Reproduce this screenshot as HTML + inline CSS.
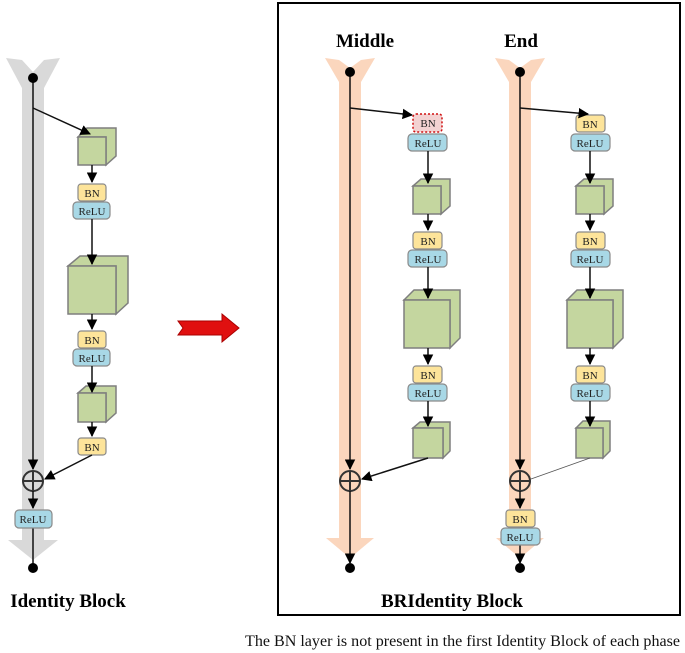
<!DOCTYPE html>
<html><head><meta charset="utf-8"><style>
body{margin:0;background:#fff}
svg{display:block}
.c{fill:#c4d69f;stroke:#7f7f7f;stroke-width:1.5}
.bn{fill:#fde49a;stroke:#8a8a8a;stroke-width:1.2}
.re{fill:#a8d8e6;stroke:#8a8a8a;stroke-width:1.2}
.t{font-family:"Liberation Serif",serif;font-size:11px;fill:#222;text-anchor:middle}
.ln{stroke:#111;stroke-width:1.5;fill:none}
.h{font-family:"Liberation Serif",serif;font-weight:bold;font-size:19px;text-anchor:middle;fill:#000}
</style></head><body>
<svg width="685" height="653" viewBox="0 0 685 653" xmlns="http://www.w3.org/2000/svg">
<defs>
<marker id="a" viewBox="0 0 10 10" refX="9" refY="5" markerWidth="7" markerHeight="7" orient="auto"><path d="M0,0L10,5L0,10z" fill="#000"/></marker>
</defs>
<path d="M22,60 L33,72 L44,60 L60,58 L44,88 L44,540 L58,540 L33,560 L8,540 L22,540 L22,88 L6,58 Z" fill="#d9d9d9"/>
<path d="M339,60 L350,68 L361,60 L375,58 L361,82 L361,538 L374,538 L350,558 L326,538 L339,538 L339,82 L325,58 Z" fill="#fbd6bd"/>
<path d="M509,60 L520,68 L531,60 L545,58 L531,82 L531,538 L544,538 L520,558 L496,538 L509,538 L509,82 L495,58 Z" fill="#fbd6bd"/>

<!-- LEFT shapes -->
<g><path class="c" d="M78,137 L87,128 L116,128 L116,156 L106,165 L106,137 Z"/><rect class="c" x="78" y="137" width="28" height="28"/></g>
<rect class="bn" x="78" y="184" width="28" height="17" rx="3"/><text class="t" x="92" y="197">BN</text>
<rect class="re" x="73" y="202" width="37" height="17" rx="4"/><text class="t" x="92" y="215">ReLU</text>
<g><path class="c" d="M68,266 L80,256 L128,256 L128,303 L116,314 L116,266 Z"/><rect class="c" x="68" y="266" width="48" height="48"/></g>
<rect class="bn" x="78" y="331" width="28" height="17" rx="3"/><text class="t" x="92" y="344">BN</text>
<rect class="re" x="73" y="349" width="37" height="17" rx="4"/><text class="t" x="92" y="362">ReLU</text>
<g><path class="c" d="M78,393 L86,386 L116,386 L116,413 L106,422 L106,393 Z"/><rect class="c" x="78" y="393" width="28" height="29"/></g>
<rect class="bn" x="78" y="438" width="28" height="17" rx="3"/><text class="t" x="92" y="451">BN</text>
<!-- LEFT lines -->
<line class="ln" x1="33" y1="78" x2="33" y2="469" marker-end="url(#a)"/>
<line class="ln" x1="33" y1="108" x2="90" y2="134" marker-end="url(#a)"/>
<line class="ln" x1="92" y1="165" x2="92" y2="182" marker-end="url(#a)"/>
<line class="ln" x1="92" y1="219" x2="92" y2="264" marker-end="url(#a)"/>
<line class="ln" x1="92" y1="314" x2="92" y2="329" marker-end="url(#a)"/>
<line class="ln" x1="92" y1="366" x2="92" y2="392" marker-end="url(#a)"/>
<line class="ln" x1="92" y1="422" x2="92" y2="436" marker-end="url(#a)"/>
<line class="ln" x1="92" y1="455" x2="45" y2="479" marker-end="url(#a)"/>
<circle cx="33" cy="481" r="10" fill="none" stroke="#333" stroke-width="2"/>
<line x1="23" y1="481" x2="43" y2="481" stroke="#333" stroke-width="2"/><line x1="33" y1="471" x2="33" y2="491" stroke="#333" stroke-width="2"/>
<line class="ln" x1="33" y1="491" x2="33" y2="508" marker-end="url(#a)"/>
<line class="ln" x1="33" y1="528" x2="33" y2="566"/>
<rect class="re" x="15" y="510" width="37" height="18" rx="4"/><text class="t" x="33" y="523">ReLU</text>
<circle cx="33" cy="78" r="5"/><circle cx="33" cy="568" r="5"/>

<path d="M178,321 L222,321 L222,314 L239,328 L222,342 L222,335 L178,335 L183,328 Z" fill="#e01010" stroke="#a00" stroke-width="1"/>

<rect x="278" y="3" width="402" height="612" fill="none" stroke="#000" stroke-width="2"/>
<text class="h" x="365" y="47">Middle</text>
<text class="h" x="521" y="47">End</text>

<!-- MIDDLE shapes -->
<rect x="413" y="114" width="29" height="18" rx="3" fill="#f3d2d2" stroke="#d01010" stroke-width="1.5" stroke-dasharray="2,2"/><text class="t" x="428" y="127">BN</text>
<rect class="re" x="408" y="134" width="39" height="17" rx="4"/><text class="t" x="428" y="147">ReLU</text>
<g><path class="c" d="M413,186 L421,179 L450,179 L450,206 L441,214 L441,186 Z"/><rect class="c" x="413" y="186" width="28" height="28"/></g>
<rect class="bn" x="413" y="232" width="29" height="17" rx="3"/><text class="t" x="428" y="245">BN</text>
<rect class="re" x="408" y="250" width="39" height="17" rx="4"/><text class="t" x="428" y="263">ReLU</text>
<g><path class="c" d="M404,300 L414,290 L460,290 L460,338 L450,348 L450,300 Z"/><rect class="c" x="404" y="300" width="46" height="48"/></g>
<rect class="bn" x="413" y="366" width="29" height="17" rx="3"/><text class="t" x="428" y="379">BN</text>
<rect class="re" x="408" y="384" width="39" height="17" rx="4"/><text class="t" x="428" y="397">ReLU</text>
<g><path class="c" d="M413,428 L420,422 L450,422 L450,451 L443,458 L443,428 Z"/><rect class="c" x="413" y="428" width="30" height="30"/></g>
<!-- MIDDLE lines -->
<line class="ln" x1="350" y1="72" x2="350" y2="469" marker-end="url(#a)"/>
<line class="ln" x1="350" y1="108" x2="412" y2="115" marker-end="url(#a)"/>
<line class="ln" x1="428" y1="151" x2="428" y2="183" marker-end="url(#a)"/>
<line class="ln" x1="428" y1="214" x2="428" y2="230" marker-end="url(#a)"/>
<line class="ln" x1="428" y1="267" x2="428" y2="298" marker-end="url(#a)"/>
<line class="ln" x1="428" y1="348" x2="428" y2="364" marker-end="url(#a)"/>
<line class="ln" x1="428" y1="401" x2="428" y2="426" marker-end="url(#a)"/>
<line class="ln" x1="428" y1="458" x2="362" y2="479" marker-end="url(#a)"/>
<circle cx="350" cy="481" r="10" fill="none" stroke="#333" stroke-width="2"/>
<line x1="340" y1="481" x2="360" y2="481" stroke="#333" stroke-width="2"/><line x1="350" y1="471" x2="350" y2="491" stroke="#333" stroke-width="2"/>
<line class="ln" x1="350" y1="491" x2="350" y2="563" marker-end="url(#a)"/>
<circle cx="350" cy="72" r="5"/><circle cx="350" cy="568" r="5"/>

<!-- END shapes -->
<rect class="bn" x="576" y="115" width="29" height="17" rx="3"/><text class="t" x="590" y="128">BN</text>
<rect class="re" x="571" y="134" width="39" height="17" rx="4"/><text class="t" x="590" y="147">ReLU</text>
<g><path class="c" d="M576,186 L584,179 L613,179 L613,206 L604,214 L604,186 Z"/><rect class="c" x="576" y="186" width="28" height="28"/></g>
<rect class="bn" x="576" y="232" width="29" height="17" rx="3"/><text class="t" x="590" y="245">BN</text>
<rect class="re" x="571" y="250" width="39" height="17" rx="4"/><text class="t" x="590" y="263">ReLU</text>
<g><path class="c" d="M567,300 L577,290 L623,290 L623,338 L613,348 L613,300 Z"/><rect class="c" x="567" y="300" width="46" height="48"/></g>
<rect class="bn" x="576" y="366" width="29" height="17" rx="3"/><text class="t" x="590" y="379">BN</text>
<rect class="re" x="571" y="384" width="39" height="17" rx="4"/><text class="t" x="590" y="397">ReLU</text>
<g><path class="c" d="M576,428 L583,421 L610,421 L610,451 L603,458 L603,428 Z"/><rect class="c" x="576" y="428" width="27" height="30"/></g>
<!-- END lines -->
<line class="ln" x1="520" y1="72" x2="520" y2="469" marker-end="url(#a)"/>
<line class="ln" x1="520" y1="108" x2="588" y2="114" marker-end="url(#a)"/>
<line class="ln" x1="590" y1="151" x2="590" y2="183" marker-end="url(#a)"/>
<line class="ln" x1="590" y1="214" x2="590" y2="230" marker-end="url(#a)"/>
<line class="ln" x1="590" y1="267" x2="590" y2="298" marker-end="url(#a)"/>
<line class="ln" x1="590" y1="348" x2="590" y2="364" marker-end="url(#a)"/>
<line class="ln" x1="590" y1="401" x2="590" y2="426" marker-end="url(#a)"/>
<line x1="590" y1="458" x2="531" y2="479" stroke="#555" stroke-width="0.9"/>
<circle cx="520" cy="481" r="10" fill="none" stroke="#333" stroke-width="2"/>
<line x1="510" y1="481" x2="530" y2="481" stroke="#333" stroke-width="2"/><line x1="520" y1="471" x2="520" y2="491" stroke="#333" stroke-width="2"/>
<line class="ln" x1="520" y1="491" x2="520" y2="508" marker-end="url(#a)"/>
<line class="ln" x1="520" y1="545" x2="520" y2="563" marker-end="url(#a)"/>
<rect class="bn" x="506" y="510" width="29" height="17" rx="3"/><text class="t" x="520" y="523">BN</text>
<rect class="re" x="501" y="528" width="39" height="17" rx="4"/><text class="t" x="520" y="541">ReLU</text>
<circle cx="520" cy="72" r="5"/><circle cx="520" cy="568" r="5"/>

<text class="h" x="68" y="607">Identity Block</text>
<text class="h" x="452" y="607">BRIdentity Block</text>
<text x="680" y="646" font-family="'Liberation Serif',serif" font-size="15.5" text-anchor="end" fill="#111" textLength="435" lengthAdjust="spacingAndGlyphs">The BN layer is not present in the first Identity Block of each phase</text>
</svg>
</body></html>
